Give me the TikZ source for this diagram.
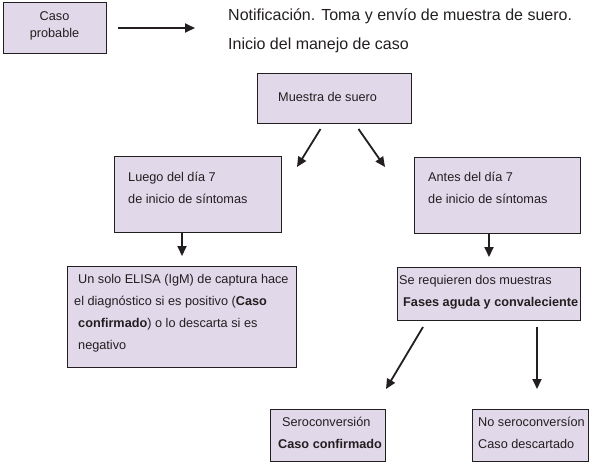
\documentclass[tikz,border=0pt]{standalone}
\usepackage{fontspec}
\setmainfont{Liberation Sans}
\usetikzlibrary{arrows.meta,positioning}
\definecolor{lila}{RGB}{225,217,234}
\definecolor{tinta}{RGB}{35,31,32}

\begin{document}
\begin{tikzpicture}[x=1pt,y=-1pt,
  caja/.style={draw=tinta,fill=lila,line width=1pt,inner sep=0pt,anchor=north west},
  texto/.style={text=tinta,font=\fontsize{12.7}{22}\selectfont,align=left,inner sep=0pt,anchor=base west},
  flecha/.style={draw=tinta,line width=1.8pt,-{Triangle[length=10pt,width=9pt]}}]
  \useasboundingbox (0,0) rectangle (594,464);
  \node[caja,minimum width=103pt,minimum height=51pt] (caso) at (3,2) {};
  \node[caja,minimum width=154pt,minimum height=50pt] (muestra) at (257,73) {};
  \node[caja,minimum width=167pt,minimum height=76pt] (luego) at (114,156) {};
  \node[caja,minimum width=166pt,minimum height=76pt] (antes) at (414,157) {};
  \node[caja,minimum width=229pt,minimum height=101pt] (elisa) at (67,266) {};
  \node[caja,minimum width=183pt,minimum height=53pt] (dos) at (397,267) {};
  \node[caja,minimum width=115pt,minimum height=52pt] (sero) at (270,409) {};
  \node[caja,minimum width=116pt,minimum height=52pt] (nosero) at (472,409) {};
  \node[texto,anchor=base,align=center,font=\fontsize{12.7}{17}\selectfont] (casoT) at (54.5,37) {Caso\\probable};
  \node[texto,font=\fontsize{16}{29}\selectfont] (nota) at (228,49) {Notificación. Toma y envío de muestra de suero.\\Inicio del manejo de caso};
  \node[texto] (muestraT) at (278,101) {Muestra de suero};
  \node[texto] (luegoT) at (128,203) {Luego del día 7\\de inicio de síntomas};
  \node[texto] (antesT) at (428,203) {Antes del día 7\\de inicio de síntomas};
  \node[texto] (elisaT) at (74,349) {\hspace*{4pt}Un solo ELISA (IgM) de captura hace\\el diagnóstico si es positivo (\textbf{Caso}\\\hspace*{4pt}\textbf{confirmado}) o lo descarta si es\\\hspace*{4pt}negativo};
  \node[texto] (dosT) at (399,306) {Se requieren dos muestras\\\hspace*{4pt}\textbf{Fases aguda y convaleciente}};
  \node[texto] (seroT) at (278,448) {\hspace*{4pt}Seroconversión\\\textbf{Caso confirmado}};
  \node[texto] (noseroT) at (478,448) {No seroconversíon\\Caso descartado};
  \coordinate (puntaL) at (297,167);
  \coordinate (puntaR) at (385,167);
  \coordinate (puntaS) at (386,389);
  \coordinate (puntaN) at (537,389);
  \draw[flecha,shorten <=11pt,shorten >=33pt] (caso.east) -- (caso.east -| nota.west);
  \draw[flecha] ([shift={(-14,5)}]muestra.south) -- (puntaL);
  \draw[flecha] ([shift={(24,5)}]muestra.south) -- (puntaR);
  \draw[flecha,shorten >=10pt] (luego.south -| elisa.north) -- (elisa.north);
  \draw[flecha,shorten >=10pt] (antes.south -| dos.north) -- (dos.north);
  \draw[flecha] ([shift={(26,6)}]dos.south west) -- (puntaS);
  \draw[flecha] ([shift={(140,6)}]dos.south west) -- (puntaN);
\end{tikzpicture}
\end{document}
